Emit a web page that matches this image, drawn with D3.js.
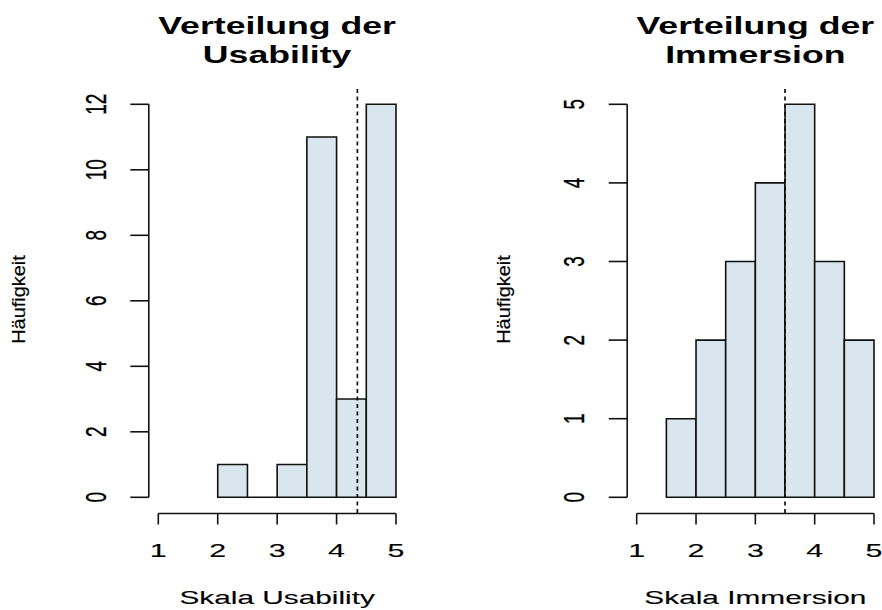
<!DOCTYPE html>
<html>
<head>
<meta charset="utf-8">
<script src="https://cdn.jsdelivr.net/npm/d3@7"></script>
<style>
  body { margin: 0; background: #fff; }
  svg { display: block; font-family: "Liberation Sans", Arial, sans-serif; }
</style>
</head>
<body>
<svg id="chart" width="882" height="610"></svg>
<script>
// Histogram data
const usabilityBreaks = [2, 2.5, 3, 3.5, 4, 4.5, 5];
const usabilityCounts = [1, 0, 1, 11, 3, 12];
const usabilityMean = 4.35;

const immersionBreaks = [1.5, 2, 2.5, 3, 3.5, 4, 4.5, 5];
const immersionCounts = [1, 2, 3, 4, 5, 3, 2];
const immersionMean = 3.5;

const xTicks = [1, 2, 3, 4, 5];
const usabilityYTicks = [0, 2, 4, 6, 8, 10, 12];
const immersionYTicks = [0, 1, 2, 3, 4, 5];

const BAR_FILL = "#d9e6ee";
const INK = "#111";

const svg = d3.select("#chart");

// text helpers: the reference text is stretched horizontally
function hText(g, x, y, str, size, sx, weight) {
    const t = g.append("text")
        .attr("transform", `translate(${x},${y}) scale(${sx},1)`)
        .attr("text-anchor", "middle")
        .style("font-size", size + "px")
        .style("font-weight", weight || "normal")
        .attr("fill", "#000")
        .text(str);
    if (!weight) t.attr("stroke", "#000").attr("stroke-width", 0.12);
    return t;
}

function vText(g, x, y, str, size, along, across) {
    return g.append("text")
        .attr("transform", `translate(${x},${y}) rotate(-90) scale(${along},${across})`)
        .attr("text-anchor", "middle")
        .style("font-size", size + "px")
        .attr("fill", "#000")
        .attr("stroke", "#000")
        .attr("stroke-width", 0.2)
        .text(str);
}

function drawPanel(cfg) {
    const g = svg.append("g");
    const plotTop = 89, plotBottom = 513.5;

    const x = d3.scaleLinear().domain([1, 5]).range([cfg.x1, cfg.x5]);
    const y = d3.scaleLinear().domain([0, d3.max(cfg.yTicks)]).range([497.3, 104.3]);
    const plotLeft = x(0.84);

    const bins = cfg.counts.map((c, i) => ({ x0: cfg.breaks[i], x1: cfg.breaks[i + 1], n: c }));

    // bars (as paths so that empty bins still show their base line)
    g.selectAll("path.bar")
        .data(bins)
        .join("path")
        .attr("class", "bar")
        .attr("d", d => `M${x(d.x0)},${y(0)}V${y(d.n)}H${x(d.x1)}V${y(0)}Z`)
        .attr("fill", BAR_FILL)
        .attr("stroke", INK)
        .attr("stroke-width", 1.6);

    // mean line
    g.append("line")
        .attr("x1", x(cfg.mean)).attr("x2", x(cfg.mean))
        .attr("y1", plotTop).attr("y2", plotBottom)
        .attr("stroke", INK)
        .attr("stroke-width", 1.7)
        .attr("stroke-dasharray", "4,3.5");

    // y axis
    g.append("line")
        .attr("x1", plotLeft).attr("x2", plotLeft)
        .attr("y1", y(0)).attr("y2", y(d3.max(cfg.yTicks)))
        .attr("stroke", INK).attr("stroke-width", 1.6);
    g.selectAll("line.ytick")
        .data(cfg.yTicks)
        .join("line")
        .attr("class", "ytick")
        .attr("x1", plotLeft - 18.5).attr("x2", plotLeft)
        .attr("y1", d => y(d)).attr("y2", d => y(d))
        .attr("stroke", INK).attr("stroke-width", 1.6);
    cfg.yTicks.forEach(t => vText(g, plotLeft - 43, y(t), t, 19, 1, 1.6));

    // x axis
    g.append("line")
        .attr("x1", x(1)).attr("x2", x(5))
        .attr("y1", plotBottom).attr("y2", plotBottom)
        .attr("stroke", INK).attr("stroke-width", 1.6);
    g.selectAll("line.xtick")
        .data(xTicks)
        .join("line")
        .attr("class", "xtick")
        .attr("x1", d => x(d)).attr("x2", d => x(d))
        .attr("y1", plotBottom).attr("y2", plotBottom + 11)
        .attr("stroke", INK).attr("stroke-width", 1.6);
    xTicks.forEach(t => hText(g, x(t), 556.7, t, 19, 1.6));

    // titles and axis labels
    const cx = (x(0.84) + x(5.16)) / 2;
    hText(g, cx, 34, cfg.title[0], 23.3, 1.53, "bold");
    hText(g, cx, 62.5, cfg.title[1], 23.3, 1.53, "bold");
    hText(g, cx, 604, cfg.xLabel, 19, 1.57);
    vText(g, cfg.yLabelX, 299.5, "Häufigkeit", 19, 1.05, 1.0);
}

drawPanel({
    breaks: usabilityBreaks, counts: usabilityCounts, mean: usabilityMean,
    yTicks: usabilityYTicks, x1: 158.3, x5: 396,
    title: ["Verteilung der", "Usability"], xLabel: "Skala Usability", yLabelX: 25
});

drawPanel({
    breaks: immersionBreaks, counts: immersionCounts, mean: immersionMean,
    yTicks: immersionYTicks, x1: 636.7, x5: 874,
    title: ["Verteilung der", "Immersion"], xLabel: "Skala Immersion", yLabelX: 509.5
});
</script>
</body>
</html>
